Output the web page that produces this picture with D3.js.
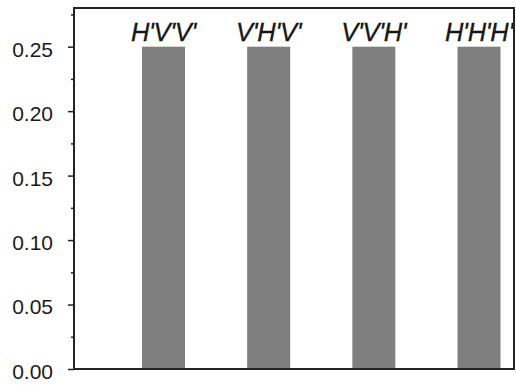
<!DOCTYPE html>
<html><head><meta charset="utf-8">
<script src="https://cdn.jsdelivr.net/npm/d3@7"></script>
<style>body{margin:0;background:#fff}svg{display:block}</style>
</head><body>
<svg id="c" width="516" height="385"></svg>
<script>
const categories = ["H'V'V'", "V'H'V'", "V'V'H'", "H'H'H'"];
const values = [0.25, 0.25, 0.25, 0.25];
const majorTicks = [0, 0.05, 0.10, 0.15, 0.20, 0.25];
const minorTicks = [0.025, 0.075, 0.125, 0.175, 0.225, 0.275];

(function(){
const svg = d3.select("#c");
const pL = 74, pR = 514, pT = 8, pB = 369;
const font = "Liberation Sans, Arial, Helvetica, sans-serif";

const y = d3.scaleLinear().domain([0, 0.28]).range([pB, pT]);
const x = d3.scalePoint().domain(categories).range([163.5, 479]);
const barW = 43;

svg.selectAll("rect.bar").data(categories).enter().append("rect")
  .attr("class", "bar")
  .attr("x", d => x(d) - barW/2)
  .attr("y", (d,i) => y(values[i]))
  .attr("width", barW)
  .attr("height", (d,i) => y(0) - y(values[i]))
  .attr("fill", "#7f7f7f");

svg.selectAll("text.lab").data(categories).enter().append("text")
  .attr("class", "lab")
  .attr("x", d => x(d))
  .attr("y", 41)
  .attr("text-anchor", "middle")
  .attr("font-family", font)
  .attr("font-style", "italic")
  .attr("font-size", 25.5)
  .attr("letter-spacing", -0.3)
  .attr("fill", "#161616")
  .attr("stroke", "#161616")
  .attr("stroke-width", 0.3)
  .text(d => d);

svg.append("rect").attr("x", pL).attr("y", pT)
  .attr("width", pR - pL).attr("height", pB - pT)
  .attr("fill", "none").attr("stroke", "#222").attr("stroke-width", 2);

const axis = d3.axisLeft(y).tickValues(majorTicks).tickFormat(d3.format(".2f")).tickSize(6).tickPadding(15);
const g = svg.append("g").attr("transform", `translate(${pL},0)`).call(axis);
g.select(".domain").remove();
g.selectAll("line").attr("stroke", "#222").attr("stroke-width", 1.5);
g.selectAll("text").attr("font-family", font).attr("font-size", 21).attr("dy", "0.45em").attr("fill", "#1a1a1a");

const minor = d3.axisLeft(y).tickValues(minorTicks).tickSize(3).tickFormat("");
const g2 = svg.append("g").attr("transform", `translate(${pL},0)`).call(minor);
g2.select(".domain").remove();
g2.selectAll("line").attr("stroke", "#222").attr("stroke-width", 1.5);
})();
</script>
</body></html>
